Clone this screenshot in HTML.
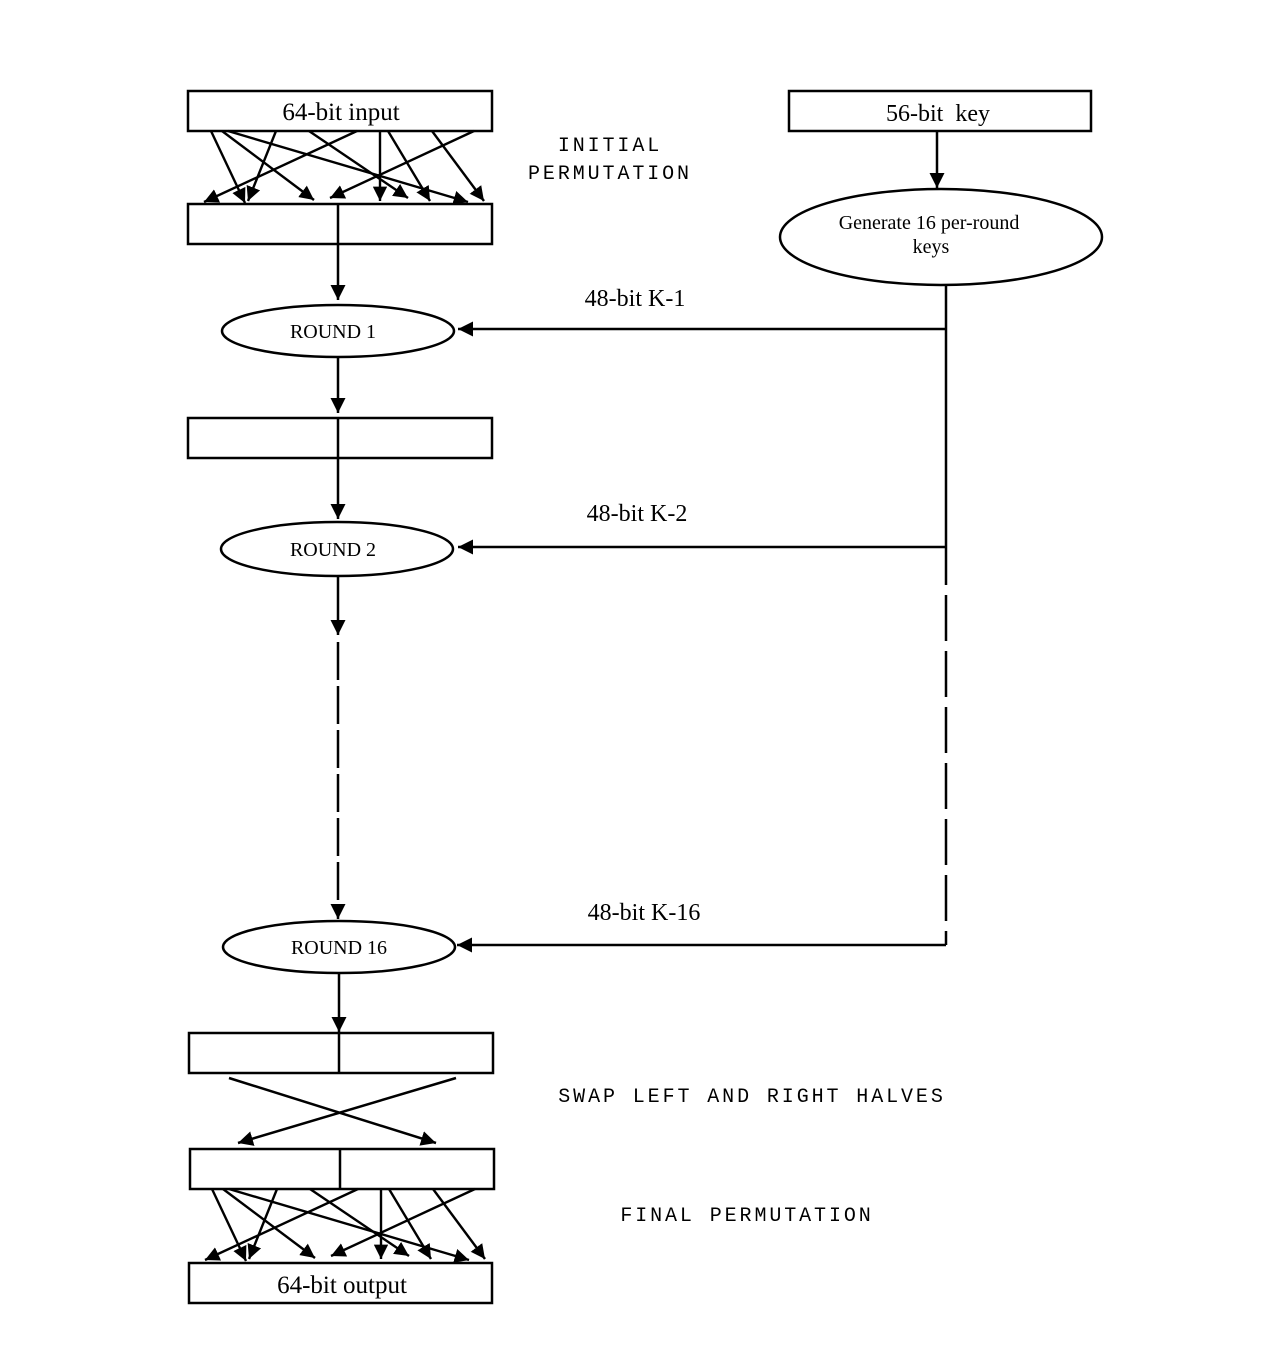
<!DOCTYPE html>
<html><head><meta charset="utf-8"><style>html,body{margin:0;padding:0;background:#fff}</style></head><body>
<svg width="1275" height="1350" viewBox="0 0 1275 1350" xmlns="http://www.w3.org/2000/svg">
<defs>
<marker id="a" viewBox="0 0 10 10" refX="10" refY="5" markerWidth="6" markerHeight="6" markerUnits="strokeWidth" orient="auto"><path d="M0,0 L10,5 L0,10 z" fill="#000"/></marker>
</defs>
<g stroke="#000" stroke-width="2.5" fill="none">
<rect x="188" y="91" width="304" height="40"/>
<rect x="188" y="204" width="304" height="40"/>
<rect x="789" y="91" width="302" height="40"/>
<ellipse cx="941" cy="237" rx="161" ry="48"/>
<ellipse cx="338" cy="331" rx="116" ry="26"/>
<rect x="188" y="418" width="304" height="40"/>
<ellipse cx="337" cy="549" rx="116" ry="27"/>
<ellipse cx="339" cy="947" rx="116" ry="26"/>
<rect x="189" y="1033" width="304" height="40"/>
<line x1="339" y1="1033" x2="339" y2="1073"/>
<rect x="190" y="1149" width="304" height="40"/>
<line x1="340" y1="1149" x2="340" y2="1189"/>
<rect x="189" y="1263" width="303" height="40"/>
</g>
<g stroke="#000" stroke-width="2.5" fill="none" marker-end="url(#a)">
<line x1="937" y1="131" x2="937" y2="188"/>
<line x1="338" y1="204" x2="338" y2="300"/>
<line x1="338" y1="357" x2="338" y2="413"/>
<line x1="338" y1="418" x2="338" y2="519"/>
<line x1="338" y1="577" x2="338" y2="635"/>
<line x1="338" y1="642" x2="338" y2="919" stroke-dasharray="38 6" marker-end="url(#a)"/>
<line x1="339" y1="973" x2="339" y2="1032"/>
<line x1="946" y1="329" x2="458" y2="329"/>
<line x1="946" y1="547" x2="458" y2="547"/>
<line x1="946" y1="945" x2="457" y2="945"/>
<line x1="229" y1="1078" x2="436" y2="1143"/>
<line x1="456" y1="1078" x2="238" y2="1143"/>
</g>
<g stroke="#000" stroke-width="2.5" fill="none">
<line x1="946" y1="285" x2="946" y2="585"/>
<line x1="946" y1="595" x2="946" y2="945" stroke-dasharray="46 10"/>
</g>
<g id="perm" stroke="#000" stroke-width="2.4" fill="none" marker-end="url(#a)">
<line x1="211" y1="131" x2="245" y2="203"/>
<line x1="222" y1="131" x2="314" y2="200"/>
<line x1="228" y1="131" x2="468" y2="202"/>
<line x1="276" y1="131" x2="248" y2="201"/>
<line x1="309" y1="131" x2="408" y2="198"/>
<line x1="357" y1="131" x2="204" y2="202"/>
<line x1="380" y1="131" x2="380" y2="201"/>
<line x1="388" y1="131" x2="430" y2="201"/>
<line x1="432" y1="131" x2="484" y2="201"/>
<line x1="474" y1="131" x2="330" y2="198"/>
</g>
<use href="#perm" transform="translate(1,1058)"/>
<g font-family="Liberation Serif, serif" fill="#000" text-anchor="middle">
<text x="341" y="120" font-size="25">64-bit input</text>
<text x="938" y="121" font-size="24" xml:space="preserve">56-bit  key</text>
<text x="929" y="229" font-size="20">Generate 16 per-round</text>
<text x="931" y="253" font-size="20">keys</text>
<text x="333" y="338" font-size="20">ROUND 1</text>
<text x="333" y="556" font-size="20">ROUND 2</text>
<text x="339" y="954" font-size="20">ROUND 16</text>
<text x="635" y="306" font-size="24">48-bit K-1</text>
<text x="637" y="521" font-size="24">48-bit K-2</text>
<text x="644" y="920" font-size="24">48-bit K-16</text>
<text x="342" y="1293" font-size="25">64-bit output</text>
</g>
<g font-family="Liberation Mono, monospace" fill="#000" text-anchor="middle" font-size="20" letter-spacing="2.9">
<text x="610" y="151">INITIAL</text>
<text x="610" y="179">PERMUTATION</text>
<text x="752" y="1102">SWAP LEFT AND RIGHT HALVES</text>
<text x="747" y="1221">FINAL PERMUTATION</text>
</g>
</svg>
</body></html>
